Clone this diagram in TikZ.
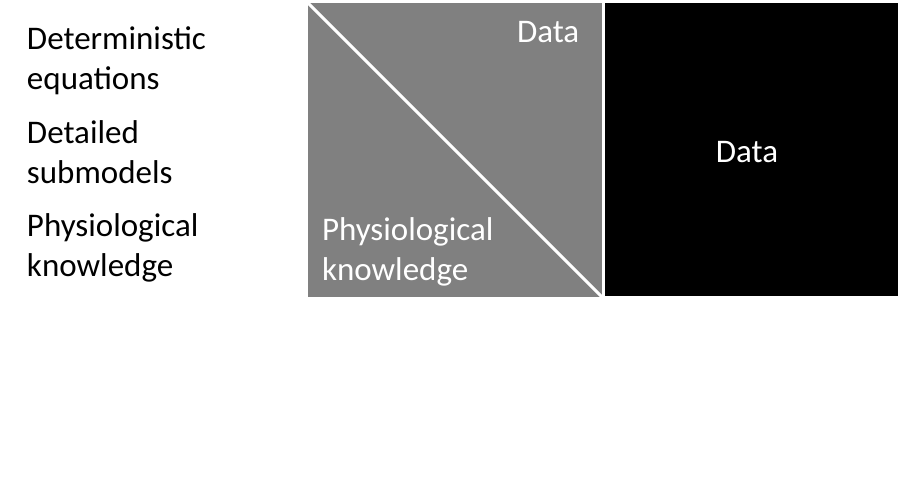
\documentclass[tikz,border=0pt]{standalone}
\usepackage{fontspec}
\setmainfont{Carlito}
\usepackage{tikz}
\usetikzlibrary{positioning}

\begin{document}
\begin{tikzpicture}[x=1pt, y=-1pt, every node/.style={inner sep=0pt, outer sep=0pt},
    txt/.style={anchor=base west, align=left, font=\fontsize{33}{40}\selectfont}]
    \useasboundingbox (0,0) rectangle (903,498);

    % left column
    \node (eq) [txt] at (27,89) {Deterministic\\equations};
    \node (sub) [txt] at (27,183) {Detailed\\submodels};
    \node (phys) [txt] at (27,276) {Physiological\\knowledge};

    % grey square, split along the diagonal
    \node (mixed) [fill=black!50, minimum size=294pt, anchor=north west] at (308,3) {};
    \draw[white, line width=3pt] (mixed.north west) -- (mixed.south east);
    \node (mdata) [txt, text=white] at (517,42) {Data};
    \node (mphys) [txt, text=white] at (322,280) {Physiological\\knowledge};

    % black square
    \node (data) [fill=black, minimum size=293pt, anchor=north west, right=3pt of mixed.north east, anchor=north west] {};
    \node (dtext) [txt, anchor=base, text=white] at (747,162) {Data};
\end{tikzpicture}
\end{document}
